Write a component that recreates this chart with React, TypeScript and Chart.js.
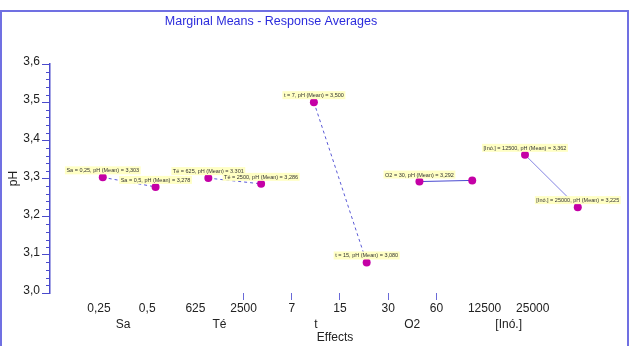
import React, { useEffect, useRef } from "react";
import { Chart, registerables } from "chart.js";

Chart.register(...registerables);

// Factor names, their two levels, and the mean pH at each level
const factors = ["Sa", "Té", "t", "O2", "[Inó.]"];
const levels = ["0,25", "0,5", "625", "2500", "7", "15", "30", "60", "12500", "25000"];
const meanPH = [3.303, 3.278, 3.301, 3.286, 3.5, 3.08, 3.292, 3.295, 3.362, 3.225];
// Levels whose mean carries no annotation
const unlabelled = [7];
// Levels that get a tick mark on the effects axis
const markedLevels = [3, 4, 5, 6, 7];

const yMin = 3.0;
const yMax = 3.6;

const fmt = (v: number, d: number) => v.toFixed(d).replace(".", ",");

const lineStyles = [
  { color: "#5a5ad6", dash: [3, 3] },
  { color: "#5a5ad6", dash: [3, 3] },
  { color: "#5a5ad6", dash: [3, 3] },
  { color: "#4a4ad0", dash: [] as number[] },
  { color: "#8585e2", dash: [] as number[] },
];

const pointLabel = (i: number) =>
  `${factors[Math.floor(i / 2)]} = ${levels[i]}, pH (Mean) = ${fmt(meanPH[i], 3)}`;

const decorations = {
  id: "decorations",
  afterDatasetsDraw(chart: any) {
    const ctx = chart.ctx;
    ctx.save();
    // minor ticks on the pH axis
    const y = chart.scales.y;
    const ax = chart.chartArea.left;
    ctx.strokeStyle = "#4b4bcc";
    ctx.lineWidth = 1;
    for (let k = 0; k <= 30; k++) {
      if (k % 5 === 0) continue;
      const py = Math.round(y.getPixelForValue(yMin + k * 0.02)) + 0.5;
      ctx.beginPath();
      ctx.moveTo(ax - 4, py);
      ctx.lineTo(ax, py);
      ctx.stroke();
    }
    // annotations above each mean
    ctx.font = "5.5px Arial, 'Liberation Sans', sans-serif";
    ctx.textAlign = "center";
    ctx.textBaseline = "middle";
    chart.data.datasets.forEach((ds: any, di: number) => {
      const meta = chart.getDatasetMeta(di);
      meta.data.forEach((pt: any, j: number) => {
        const idx = di * 2 + j;
        if (unlabelled.includes(idx)) return;
        const text = pointLabel(idx);
        const w = ctx.measureText(text).width + 3;
        const cx = pt.x;
        const cy = pt.y - 7;
        ctx.fillStyle = "#ffffc4";
        ctx.fillRect(cx - w / 2, cy - 4, w, 8);
        ctx.fillStyle = "#333333";
        ctx.fillText(text, cx, cy + 0.5);
      });
    });
    ctx.restore();
  },
  afterDraw(chart: any) {
    const ctx = chart.ctx;
    ctx.save();
    ctx.font = "12.5px Arial, 'Liberation Sans', sans-serif";
    ctx.fillStyle = "#2c2cdc";
    ctx.textAlign = "center";
    ctx.textBaseline = "middle";
    ctx.fillText("Marginal Means - Response Averages", 271, 21.5);
    ctx.restore();
  },
};

export default function App() {
  const canvasRef = useRef<HTMLCanvasElement | null>(null);

  useEffect(() => {
    if (!canvasRef.current) return;
    const font = { family: "Arial, 'Liberation Sans', sans-serif", size: 12 };
    const datasets = factors.map((f, k) => ({
      label: f,
      data: [0, 1].map((j) => ({ x: 2 * k + j, y: meanPH[2 * k + j] })),
      borderColor: lineStyles[k].color,
      borderDash: lineStyles[k].dash,
      borderWidth: 1,
      pointRadius: 4,
      pointBackgroundColor: "#c400a6",
      pointBorderColor: "#c400a6",
      pointBorderWidth: 0,
      fill: false,
    }));

    const chart = new Chart(canvasRef.current, {
      type: "line",
      data: { datasets },
      options: {
        animation: false,
        responsive: false,
        layout: { padding: { top: 64, right: 13, bottom: 0, left: 0 } },
        plugins: { legend: { display: false }, tooltip: { enabled: false }, title: { display: false } },
        scales: {
          x: { type: "linear", display: false, min: -1.0, max: 9.8 },
          xl: {
            type: "linear",
            position: "bottom",
            weight: 1,
            min: -1.017,
            max: 10.81,
            afterBuildTicks: (s: any) => {
              s.ticks = levels.map((_, i) => ({ value: i }));
            },
            afterFit: (s: any) => {
              s.height = 22;
            },
            border: { display: false },
            grid: {
              drawOnChartArea: false,
              drawTicks: true,
              tickLength: 7,
              tickColor: (c: any) =>
                c.tick && markedLevels.includes(c.tick.value) ? "#6a6ad8" : "rgba(0,0,0,0)",
            },
            ticks: {
              font,
              color: "#222",
              padding: 1,
              maxRotation: 0,
              autoSkip: false,
              callback: (v: any) => levels[v] ?? "",
            },
          },
          xg: {
            type: "linear",
            position: "bottom",
            weight: 2,
            min: -1.017,
            max: 10.81,
            afterBuildTicks: (s: any) => {
              s.ticks = factors.map((_, k) => ({ value: 2 * k + 0.5 }));
            },
            afterFit: (s: any) => {
              s.height = 31;
            },
            border: { display: false },
            grid: { display: false, drawTicks: false },
            ticks: {
              font,
              color: "#222",
              padding: 2,
              maxRotation: 0,
              autoSkip: false,
              callback: (v: any) => factors[Math.round(v - 0.5) / 2] ?? "",
            },
            title: { display: true, text: "Effects", font, color: "#222", padding: { top: 0, bottom: 1 } },
          },
          y: {
            min: yMin,
            max: yMax,
            afterFit: (s: any) => {
              s.width = 50;
            },
            border: { display: true, color: "#4b4bcc", width: 1.5 },
            grid: { drawOnChartArea: false, tickLength: 8, tickColor: "#4b4bcc", tickWidth: 1 },
            ticks: {
              stepSize: 0.1,
              font,
              color: "#222",
              padding: 2,
              labelOffset: -2,
              callback: (v: any) => fmt(Number(v), 1),
            },
            title: { display: true, text: "pH", font, color: "#222", padding: { top: 6, bottom: 0 } },
          },
        },
      },
      plugins: [decorations],
    });
    return () => chart.destroy();
  }, []);

  return (
    <div style={{ position: "fixed", left: 0, top: 0, width: 633, height: 346, background: "#fff", overflow: "hidden" }}>
      <div
        style={{
          position: "absolute",
          left: 0,
          top: 10,
          width: 629,
          height: 400,
          boxSizing: "border-box",
          border: "2px solid #7070e2",
        }}
      />
      <canvas ref={canvasRef} width={633} height={346} style={{ position: "absolute", left: 0, top: 0 }} />
    </div>
  );
}
